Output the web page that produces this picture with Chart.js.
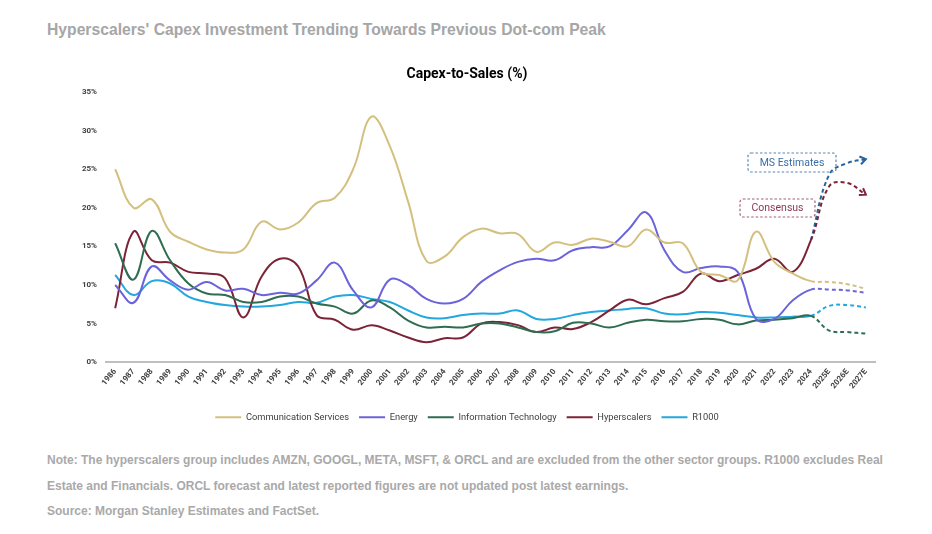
<!DOCTYPE html>
<html>
<head>
<meta charset="utf-8">
<script src="https://cdn.jsdelivr.net/npm/chart.js@4.4.1/dist/chart.umd.min.js"></script>
<style>
  body { margin: 0; background: #fff; width: 932px; height: 534px; overflow: hidden; position: relative; }
  #page-title {
    position: absolute; left: 47px; top: 21px;
    font: bold 15.7px "Liberation Sans", Arial, sans-serif; color: #a6a6a6; white-space: nowrap;
  }
  #chart-title {
    position: absolute; left: 0; width: 934px; top: 65px; text-align: center;
    font: bold 14px Roboto, sans-serif; color: #000; white-space: nowrap;
  }
  #chart { position: absolute; left: 0; top: 0; }
  #notes {
    position: absolute; left: 47px; top: 448px;
    font: bold 12px "Liberation Sans", Arial, sans-serif; color: #a9a9a9;
    line-height: 25.5px; white-space: nowrap;
  }
</style>
</head>
<body>
<div id="page-title">Hyperscalers' Capex Investment Trending Towards Previous Dot-com Peak</div>
<canvas id="chart" width="932" height="440"></canvas>
<div id="chart-title">Capex-to-Sales (%)</div>
<div id="notes">
  Note: The hyperscalers group includes AMZN, GOOGL, META, MSFT, &amp; ORCL and are excluded from the other sector groups. R1000 excludes Real<br>
  Estate and Financials. ORCL forecast and latest reported figures are not updated post latest earnings.<br>
  Source: Morgan Stanley Estimates and FactSet.
</div>
<script>
// valores (% capex / vendas)
const anos = ['1986','1987','1988','1989','1990','1991','1992','1993','1994','1995','1996','1997','1998','1999',
  '2000','2001','2002','2003','2004','2005','2006','2007','2008','2009','2010','2011','2012','2013','2014',
  '2015','2016','2017','2018','2019','2020','2021','2022','2023','2024','2025E','2026E','2027E'];

const commServices = [25.0,20.0,21.1,16.9,15.6,14.6,14.2,14.6,18.2,17.2,18.1,20.6,21.3,25.0,31.8,
  28.0,20.8,13.1,13.7,16.2,17.3,16.7,16.6,14.3,15.5,15.2,16.0,15.6,15.0,17.2,15.5,
  15.4,11.7,11.3,10.6,16.9,13.0,11.5,10.5,10.4,10.1,9.5];

const energy = [10.0,7.7,12.4,10.6,9.4,10.4,9.3,9.5,8.7,9.0,8.9,10.6,12.9,9.3,7.1,
  10.7,10.0,8.2,7.6,8.2,10.4,11.9,13.0,13.4,13.2,14.5,14.9,15.0,17.1,19.4,14.5,
  11.7,12.2,12.4,11.7,5.6,5.6,8.0,9.4,9.4,9.3,9.0];

const infoTech = [15.4,10.7,17.0,13.2,10.2,8.9,8.7,7.8,7.8,8.5,8.5,7.6,7.2,6.3,8.0,
  7.1,5.4,4.5,4.6,4.5,5.0,5.0,4.5,3.9,4.0,5.1,5.0,4.5,5.1,5.5,5.3,
  5.3,5.6,5.5,4.9,5.4,5.5,5.7,6.0,4.1,3.9,3.7];

// ultimos 3 valores = consenso
const hyperscalers = [7.0,16.9,13.2,12.9,11.7,11.5,10.9,5.8,11.1,13.4,12.4,6.1,5.5,4.2,4.8,
  4.1,3.2,2.6,3.1,3.2,5.0,5.2,4.8,3.9,4.5,4.3,5.2,6.7,8.1,7.5,8.3,
  9.1,11.5,10.5,11.3,12.1,13.4,11.7,15.8,22.8,23.2,21.7];

const msEstimates = [null,null,null,null,null,null,null,null,null,null,null,null,null,null,null,
  null,null,null,null,null,null,null,null,null,null,null,null,null,null,null,null,
  null,null,null,null,null,null,null,15.8,24.3,25.8,26.3];

const r1000 = [11.3,8.7,10.5,10.2,8.5,7.8,7.4,7.2,7.2,7.4,7.8,7.7,8.5,8.7,8.2,
  7.8,6.7,5.8,5.7,6.1,6.3,6.3,6.7,5.6,5.6,6.1,6.5,6.7,6.9,7.0,6.3,
  6.2,6.5,6.4,6.1,5.8,5.8,5.9,6.0,7.3,7.4,7.1];

const yTicks = [0, 5, 10, 15, 20, 25, 30, 35];

const ultimoReal = anos.indexOf('2024');
const tracejado = ctx => ctx.p0DataIndex >= ultimoReal ? [4, 3] : undefined;

function serie(label, data, cor, extra) {
  return Object.assign({
    label: label,
    data: data,
    borderColor: cor,
    backgroundColor: cor,
    borderWidth: 2,
    pointRadius: 0,
    tension: 0.4,
    fill: false,
    segment: { borderDash: tracejado }
  }, extra || {});
}

// caixas de texto das estimativas
const caixas = [
  { text: 'MS Estimates', x: 748, y: 153, w: 88, h: 19, borda: '#5b86b4', cor: '#3a6ea6' },
  { text: 'Consensus', x: 740, y: 199, w: 75, h: 18, borda: '#a46176', cor: '#8c3a52' }
];

const anotacoes = {
  id: 'anotacoes',
  afterDatasetsDraw(chart) {
    const ctx = chart.ctx;
    // setas no fim das series com arrow
    chart.data.datasets.forEach((ds, i) => {
      if (!ds.arrow) return;
      const pts = chart.getDatasetMeta(i).data;
      const p = pts[pts.length - 1];
      const q = pts[pts.length - 2];
      const ang = Math.atan2(p.y - (p.cp1y !== undefined ? p.cp1y : q.y), p.x - (p.cp1x !== undefined ? p.cp1x : q.x));
      const a = 7;
      ctx.save();
      ctx.strokeStyle = ds.borderColor;
      ctx.lineWidth = 2;
      ctx.beginPath();
      ctx.moveTo(p.x - a * Math.cos(ang - 0.6), p.y - a * Math.sin(ang - 0.6));
      ctx.lineTo(p.x, p.y);
      ctx.lineTo(p.x - a * Math.cos(ang + 0.6), p.y - a * Math.sin(ang + 0.6));
      ctx.stroke();
      ctx.restore();
    });
    caixas.forEach(c => {
      ctx.save();
      ctx.setLineDash([2.5, 2]);
      ctx.strokeStyle = c.borda;
      ctx.lineWidth = 1.2;
      ctx.beginPath();
      ctx.roundRect(c.x, c.y, c.w, c.h, 3);
      ctx.stroke();
      ctx.setLineDash([]);
      ctx.fillStyle = c.cor;
      ctx.font = '10.5px Roboto';
      ctx.textAlign = 'center';
      ctx.textBaseline = 'middle';
      ctx.fillText(c.text, c.x + c.w / 2, c.y + c.h / 2 + 0.5);
      ctx.restore();
    });
  }
};

new Chart(document.getElementById('chart').getContext('2d'), {
  type: 'line',
  data: {
    labels: anos,
    datasets: [
      serie('Communication Services', commServices, '#d4c07e'),
      serie('Energy', energy, '#6b63da'),
      serie('Information Technology', infoTech, '#2f6d52'),
      serie('Hyperscalers', hyperscalers, '#7c2437', { arrow: true }),
      serie('R1000', r1000, '#22a7df'),
      serie('MS Estimates', msEstimates, '#25649f', { arrow: true, legenda: false })
    ]
  },
  options: {
    responsive: false,
    animation: false,
    layout: { padding: { left: 59, right: 57, top: 92, bottom: 8 } },
    scales: {
      x: {
        offset: true,
        grid: { display: false, drawTicks: false },
        border: { display: true, color: '#bfbfbf', width: 2 },
        ticks: {
          autoSkip: false, minRotation: 50, maxRotation: 50, padding: 5,
          color: '#404040', font: { family: 'Roboto', size: 8, weight: 'bold' }
        },
        afterFit(scale) { scale.height = 40.5; }
      },
      y: {
        min: 0, max: 35,
        afterBuildTicks(scale) { scale.ticks = yTicks.map(v => ({ value: v })); },
        grid: { display: false, drawTicks: false },
        border: { display: false },
        ticks: {
          padding: 9, color: '#404040', font: { family: 'Roboto', size: 8, weight: 'bold' },
          callback: v => v + '%'
        },
        afterFit(scale) { scale.width = 47; }
      }
    },
    plugins: {
      legend: {
        position: 'bottom',
        labels: {
          usePointStyle: true, pointStyle: 'line', pointStyleWidth: 26,
          padding: 10, color: '#404040', font: { family: 'Roboto', size: 9.3 },
          filter: (item, data) => data.datasets[item.datasetIndex].legenda !== false
        }
      },
      tooltip: { enabled: false }
    }
  },
  plugins: [anotacoes]
});
</script>
</body>
</html>
